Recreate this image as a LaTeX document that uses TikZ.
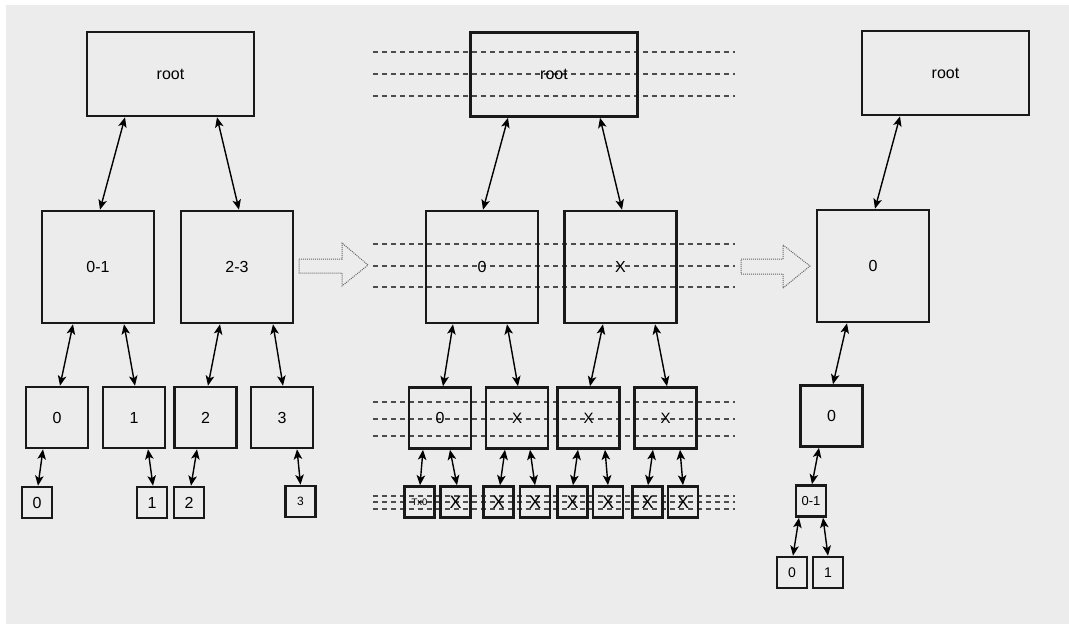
\documentclass[tikz,border=0pt]{standalone}
\usepackage{fontspec}
\setmainfont{Liberation Sans}
\usetikzlibrary{arrows.meta}
\definecolor{bg}{HTML}{ECECEC}
\begin{document}
\begin{tikzpicture}[x=1pt,y=-1pt,
 box/.style={draw=black!90, line width=2.6pt, inner sep=0pt, font=\fontsize{16}{18}\selectfont},
 bigbox/.style={box, minimum width=112pt, minimum height=112pt},
 widebox/.style={box, minimum width=167pt, minimum height=84pt},
 midbox/.style={box, minimum width=62pt, minimum height=61pt},
 tinybox/.style={box, minimum width=30pt, minimum height=31pt},
 link/.style={line width=1.4pt, {Stealth[length=10pt,width=8.5pt,inset=2.5pt]}-{Stealth[length=10pt,width=8.5pt,inset=2.5pt]}},
 guide/.style={draw=black!70, line width=1.1pt, dash pattern=on 5pt off 4pt},
 hollow/.style={draw=black!60, line width=1pt, dash pattern=on 1pt off 1pt, fill=bg}]
\useasboundingbox (0,0) rectangle (1069,625);
\fill[bg] (6,5) rectangle (1069,624);

% guide lines (middle)
\foreach \yy in {52,74,96,244,266,287,402,419,436,496,502,509}
  \draw[guide] (373,\yy) -- (735,\yy);

% hollow arrows
\path[hollow] (299,259) -- (342,259) -- (342,243) -- (368,265) -- (342,286) -- (342,273) -- (299,273) -- cycle;
\path[hollow] (741,259) -- (783,259) -- (783,245) -- (810,266) -- (783,288) -- (783,274) -- (741,274) -- cycle;

% ---------- left tree ----------
\node[widebox] (Lroot) at (170.5,74) {root};
\node[bigbox] (L01) at (98,267) {0-1};
\node[bigbox] (L23) at (237,267) {2-3};
\node[midbox] (L0) at (57,417.5) {0};
\node[midbox] (L1) at (134,417.5) {1};
\node[midbox] (L2) at (205.5,417.5) {2};
\node[midbox] (L3) at (282,417.5) {3};
\node[tinybox] (Ls0) at (37,502.5) {0};
\node[tinybox] (Ls1) at (152,502.5) {1};
\node[tinybox] (Ls2) at (189,502.5) {2};
\node[tinybox, font=\fontsize{12}{14}\selectfont] (Ls3) at (300.5,501.5) {3};

\draw[link] ([xshift=-45.5pt]Lroot.south) -- ([xshift=2pt]L01.north);
\draw[link] ([xshift=46.5pt]Lroot.south) -- ([xshift=2pt]L23.north);
\draw[link] ([xshift=-25pt]L01.south) -- ([xshift=3pt]L0.north);
\draw[link] ([xshift=26pt]L01.south) -- ([xshift=1pt]L1.north);
\draw[link] ([xshift=-17pt]L23.south) -- ([xshift=2.5pt]L2.north);
\draw[link] ([xshift=36pt]L23.south) -- ([xshift=1pt]L3.north);
\draw[link] ([xshift=-14pt]L0.south) -- ([xshift=1pt]Ls0.north);
\draw[link] ([xshift=14pt]L1.south) -- ([xshift=1pt]Ls1.north);
\draw[link] ([xshift=-8.5pt]L2.south) -- ([xshift=2pt]Ls2.north);
\draw[link] ([xshift=15pt]L3.south) -- (Ls3.north);

% ---------- middle tree ----------
\node[widebox] (Mroot) at (554,74.5) {root};
\node[bigbox] (M0) at (482,267) {0};
\node[bigbox] (MX) at (620.5,267) {X};
\node[midbox] (M00) at (440,418) {0};
\node[midbox, font=\fontsize{15}{17}\selectfont] (MX1) at (517,418) {X};
\node[midbox, font=\fontsize{15}{17}\selectfont] (MX2) at (588.5,418) {X};
\node[midbox, font=\fontsize{15}{17}\selectfont] (MX3) at (665.5,418) {X};
\node[tinybox, font=\fontsize{9.5}{11}\selectfont] (Ms1) at (419.5,502) {Tx0};
\node[tinybox, font=\fontsize{18}{20}\selectfont] (Ms2) at (455.5,502) {X};
\node[tinybox, font=\fontsize{18}{20}\selectfont] (Ms3) at (498.5,502) {X};
\node[tinybox, font=\fontsize{18}{20}\selectfont] (Ms4) at (535,502) {X};
\node[tinybox, font=\fontsize{18}{20}\selectfont] (Ms5) at (572.5,502) {X};
\node[tinybox, font=\fontsize{18}{20}\selectfont] (Ms6) at (608,502) {X};
\node[tinybox, font=\fontsize{18}{20}\selectfont] (Ms7) at (647.5,502) {X};
\node[tinybox, font=\fontsize{18}{20}\selectfont] (Ms8) at (683,502) {X};

\draw[link] ([xshift=-46pt]Mroot.south) -- ([xshift=1pt]M0.north);
\draw[link] ([xshift=46pt]Mroot.south) -- ([xshift=1.5pt]MX.north);
\draw[link] ([xshift=-29pt]M0.south) -- ([xshift=3pt]M00.north);
\draw[link] ([xshift=25pt]M0.south) -- ([xshift=1pt]MX1.north);
\draw[link] ([xshift=-17.5pt]MX.south) -- ([xshift=1.5pt]MX2.north);
\draw[link] ([xshift=34.5pt]MX.south) -- ([xshift=1.5pt]MX3.north);
\draw[link] ([xshift=-17pt]M00.south) -- ([xshift=0.5pt]Ms1.north);
\draw[link] ([xshift=10pt]M00.south) -- ([xshift=1.5pt]Ms2.north);
\draw[link] ([xshift=-12pt]MX1.south) -- ([xshift=1.5pt]Ms3.north);
\draw[link] ([xshift=13pt]MX1.south) -- (Ms4.north);
\draw[link] ([xshift=-10.5pt]MX2.south) -- ([xshift=0.5pt]Ms5.north);
\draw[link] ([xshift=16.5pt]MX2.south) -- (Ms6.north);
\draw[link] ([xshift=-12.5pt]MX3.south) -- ([xshift=0.5pt]Ms7.north);
\draw[link] ([xshift=14.5pt]MX3.south) -- (Ms8.north);

% ---------- right tree ----------
\node[widebox] (Rroot) at (945.5,73) {root};
\node[bigbox] (R0) at (873,266) {0};
\node[midbox] (R00) at (831.5,416) {0};
\node[tinybox, font=\fontsize{13}{15}\selectfont] (R01) at (811,501) {0-1};
\node[tinybox, font=\fontsize{14}{16}\selectfont] (Rt0) at (792,572.5) {0};
\node[tinybox, font=\fontsize{14}{16}\selectfont] (Rt1) at (828,572.5) {1};

\draw[link] ([xshift=-45.5pt]Rroot.south) -- ([xshift=2pt]R0.north);
\draw[link] ([xshift=-26pt]R0.south) -- ([xshift=1.5pt]R00.north);
\draw[link] ([xshift=-12.5pt]R00.south) -- ([xshift=1pt]R01.north);
\draw[link] ([xshift=-12pt]R01.south) -- ([xshift=1pt]Rt0.north);
\draw[link] ([xshift=12pt]R01.south) -- (Rt1.north);
\end{tikzpicture}
\end{document}
